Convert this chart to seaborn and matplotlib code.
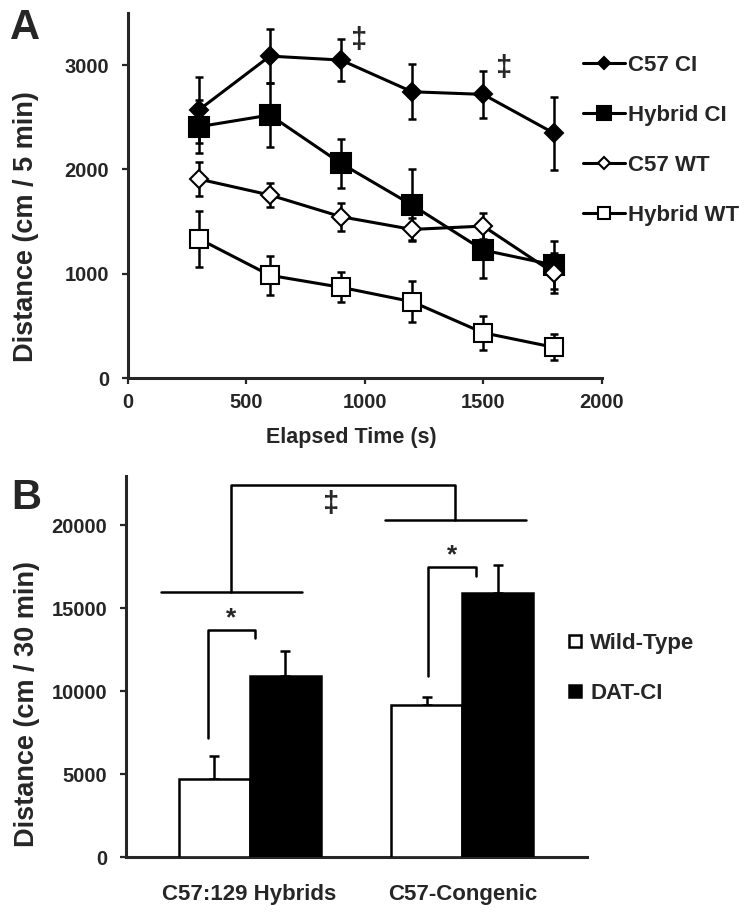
import matplotlib
matplotlib.use("Agg")
import matplotlib.pyplot as plt
import seaborn as sns
import pandas as pd
from matplotlib.lines import Line2D

# ---------------- Panel A data ----------------
time_s = [300, 600, 900, 1200, 1500, 1800]
c57_ci = [2570, 3087, 3049, 2745, 2720, 2346]
c57_ci_err = [320, 260, 200, 262, 225, 350]
hybrid_ci = [2410, 2522, 2058, 1659, 1227, 1083]
hybrid_ci_err = [255, 305, 235, 345, 270, 233]
c57_wt = [1908, 1755, 1547, 1425, 1457, 1004]
c57_wt_err = [160, 115, 135, 105, 128, 192]
hybrid_wt = [1336, 985, 870, 732, 434, 294]
hybrid_wt_err = [268, 188, 145, 195, 165, 125]
series_names = ["C57 CI", "Hybrid CI", "C57 WT", "Hybrid WT"]
a_xticks = [0, 500, 1000, 1500, 2000]
a_yticks = [0, 1000, 2000, 3000]
dagger_times = [976, 1588]
dagger_heights = [3240, 2970]

# ---------------- Panel B data ----------------
strains = ["C57:129 Hybrids", "C57-Congenic"]
genotypes = ["Wild-Type", "DAT-CI"]
wt_means = [4717, 9175]
wt_sem = [1400, 465]
ci_means = [10940, 15904]
ci_sem = [1490, 1700]
b_yticks = [0, 5000, 10000, 15000, 20000]
# significance brackets (category units / data units)
star_left_x = [-0.197, 0.838]
star_right_x = [0.027, 1.063]
star_left_low = [7170, 10920]
star_top = [13690, 17500]
star_right_low = [13190, 16940]
star_height = [14400, 18200]
strain_line_left = [-0.415, 0.637]
strain_line_right = [0.246, 1.298]
strain_line_y = [16000, 20320]
strain_joint_x = [-0.087, 0.966]
strain_joint_top = 22470
strain_dagger_x = 0.382
strain_dagger_y = 21320

sns.set_style("ticks")
plt.rcParams["font.family"] = ["Liberation Sans", "DejaVu Sans"]
plt.rcParams["font.weight"] = "bold"
plt.rcParams["axes.linewidth"] = 2.2

fig = plt.figure(figsize=(7.52, 9.18), dpi=100)
axA = fig.add_axes([0.1698, 0.5882, 0.6303, 0.3976])
axB = fig.add_axes([0.1676, 0.0661, 0.6130, 0.4157])

# ---------------- Panel A ----------------
series_vals = [c57_ci, hybrid_ci, c57_wt, hybrid_wt]
series_errs = [c57_ci_err, hybrid_ci_err, c57_wt_err, hybrid_wt_err]
markers = ["D", "s", "D", "s"]
faces = ["black", "black", "white", "white"]
msizes = [9, 14, 9, 13]
order_z = [4, 3, 5, 2]
for name, vals, errs, mk, fc, ms, z in zip(series_names, series_vals, series_errs,
                                           markers, faces, msizes, order_z):
    axA.errorbar(time_s, vals, yerr=errs, fmt="none", ecolor="black",
                 elinewidth=1.8, capsize=3, capthick=1.8, zorder=z)
    sns.lineplot(x=time_s, y=vals, ax=axA, color="black", linewidth=2.2,
                 marker=mk, markersize=ms, markerfacecolor=fc,
                 markeredgecolor="black", markeredgewidth=1.5,
                 label=name, zorder=z + 0.5)

for t, h in zip(dagger_times, dagger_heights):
    axA.text(t, h, "\u2021", ha="center", va="center", fontsize=21,
             fontweight="bold")

axA.set_xlim(0, 2000)
axA.set_ylim(0, 3500)
axA.set_xticks(a_xticks)
axA.set_yticks(a_yticks)
axA.tick_params(direction="out", length=4.5, width=1.6, labelsize=14.5, pad=6)
axA.tick_params(axis="y", pad=9)
for s in ["top", "right"]:
    axA.spines[s].set_visible(False)
axA.set_xlabel("Elapsed Time (s)", fontsize=15.5, fontweight="bold", va="center")
axA.xaxis.set_label_coords(0.4726, -0.1616)
axA.set_ylabel("Distance (cm / 5 min)", fontsize=19.5, fontweight="bold", va="center")
axA.yaxis.set_label_coords(-0.2146, 0.416)

leg = axA.legend(loc="upper left", bbox_to_anchor=(582.7 / 752, 1 - 55 / 918),
                 bbox_transform=fig.transFigure, frameon=False, fontsize=16,
                 handlelength=1.9, handletextpad=0.15, labelspacing=1.3,
                 borderpad=0, borderaxespad=0, markerscale=0.7)
for t in leg.get_texts():
    t.set_fontweight("bold")

fig.text(25 / 752, 1 - 28 / 918, "A", fontsize=30, fontweight="bold",
         ha="center", va="center")

# ---------------- Panel B ----------------
dfB = pd.DataFrame({
    "strain": strains * 2,
    "genotype": [genotypes[0]] * len(strains) + [genotypes[1]] * len(strains),
    "distance": wt_means + ci_means,
})
sns.barplot(data=dfB, x="strain", y="distance", hue="genotype", order=strains,
            hue_order=genotypes, palette={"Wild-Type": "white", "DAT-CI": "black"},
            edgecolor="black", linewidth=1.8, width=0.667, errorbar=None,
            ax=axB, legend=False, zorder=3)

for cont, means, errs in zip(axB.containers, [wt_means, ci_means], [wt_sem, ci_sem]):
    xs = [p.get_x() + p.get_width() / 2 for p in cont]
    axB.errorbar(xs, means, yerr=[[0] * len(errs), errs], fmt="none",
                 ecolor="black", elinewidth=1.8, capsize=3.5, capthick=1.8,
                 zorder=2)

blw = 1.8
for i in range(len(strains)):
    axB.plot([star_left_x[i], star_left_x[i], star_right_x[i], star_right_x[i]],
             [star_left_low[i], star_top[i], star_top[i], star_right_low[i]],
             color="black", lw=blw, zorder=4)
    axB.text((star_left_x[i] + star_right_x[i]) / 2, star_height[i], "*",
             ha="center", va="center", fontsize=19, fontweight="bold")
    axB.plot([strain_line_left[i], strain_line_right[i]],
             [strain_line_y[i], strain_line_y[i]], color="black", lw=blw)
axB.plot([strain_joint_x[0], strain_joint_x[0], strain_joint_x[1], strain_joint_x[1]],
         [strain_line_y[0], strain_joint_top, strain_joint_top, strain_line_y[1]],
         color="black", lw=blw)
axB.text(strain_dagger_x, strain_dagger_y, "\u2021", ha="center", va="center",
         fontsize=21, fontweight="bold")

axB.set_xlim(-0.58, 1.585)
axB.set_ylim(0, 23000)
axB.set_yticks(b_yticks)
axB.tick_params(axis="y", direction="out", length=4.5, width=1.6, labelsize=14.5, pad=9)
axB.tick_params(axis="x", length=0, labelsize=16, pad=19)
for lab in axB.get_xticklabels():
    lab.set_fontweight("bold")
for s in ["top", "right"]:
    axB.spines[s].set_visible(False)
axB.set_xlabel("")
axB.set_ylabel("Distance (cm / 30 min)", fontsize=19.5, fontweight="bold", va="center")
axB.yaxis.set_label_coords(-0.2148, 0.402)

handlesB = [Line2D([], [], marker="s", ls="none", mfc="white", mec="black",
                   mew=1.8, ms=8),
            Line2D([], [], marker="s", ls="none", mfc="black", mec="black",
                   mew=1.8, ms=8)]
legB = axB.legend(handlesB, genotypes, loc="upper left",
                  bbox_to_anchor=(566 / 752, 1 - 633 / 918),
                  bbox_transform=fig.transFigure, frameon=False, fontsize=16,
                  handlelength=0.8, handletextpad=0.3, labelspacing=1.3,
                  borderpad=0, borderaxespad=0)
for t in legB.get_texts():
    t.set_fontweight("bold")

fig.text(26 / 752, 1 - 498 / 918, "B", fontsize=30, fontweight="bold",
         ha="center", va="center")

fig.savefig("out.png", dpi=100)
